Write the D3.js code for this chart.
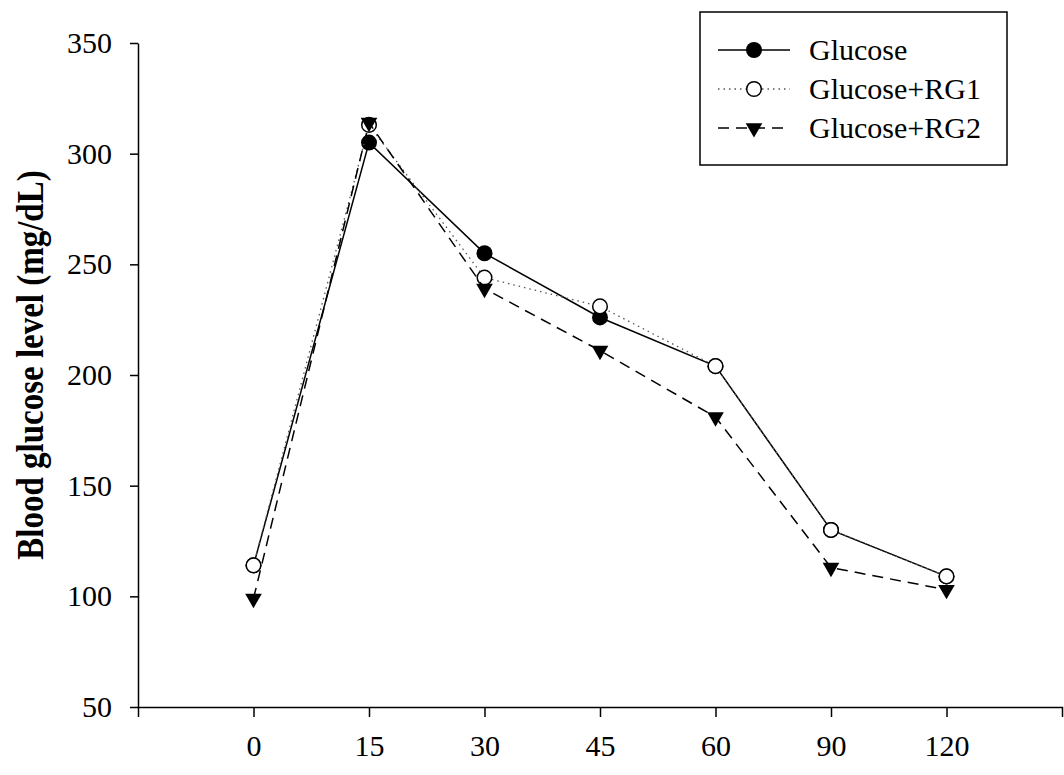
<!DOCTYPE html>
<html>
<head>
<meta charset="utf-8">
<script src="https://cdn.jsdelivr.net/npm/d3@7"></script>
<style>
  body { margin: 0; background: #fff; }
  svg { display: block; }
  text { font-family: "Liberation Serif", "Times New Roman", serif; fill: #000; }
  .tick text { font-size: 30px; }
  .legend text { font-size: 30px; }
  .axis-title { font-size: 33px; font-weight: bold; }
</style>
</head>
<body>
<svg width="1064" height="775"></svg>
<script>
const timeLabels = ['0', '15', '30', '45', '60', '90', '120']
const yTicks = [50, 100, 150, 200, 250, 300, 350]

const glucose = [114, 305, 255, 226, 204, 130, 109]
const glucoseRG1 = [114, 313, 244, 231, 204, 130, 109]
const glucoseRG2 = [99, 314, 239, 211, 181, 113, 103]

const seriesNames = ['Glucose', 'Glucose+RG1', 'Glucose+RG2']

const svg = d3.select('svg')
const plot = {left: 138, right: 1062, top: 43, bottom: 707}

const xScale = d3.scalePoint()
  .domain(timeLabels)
  .range([plot.left, plot.right])
  .padding(1)

const yScale = d3.scaleLinear()
  .domain([50, 350])
  .range([plot.bottom, plot.top])

// y axis
const yAxisG = svg.append('g')
  .attr('transform', `translate(${plot.left},0)`)
  .call(d3.axisLeft(yScale).tickValues(yTicks).tickSize(8).tickPadding(18).tickSizeOuter(0))
yAxisG.select('.domain').attr('stroke', '#000').attr('stroke-width', 1.5)
yAxisG.selectAll('.tick line').attr('stroke', '#000').attr('stroke-width', 1.5)

// x axis
const xAxisG = svg.append('g')
  .attr('transform', `translate(0,${plot.bottom})`)
  .call(d3.axisBottom(xScale).tickSize(10).tickPadding(18).tickSizeOuter(10))
xAxisG.select('.domain').attr('stroke', '#000').attr('stroke-width', 1.5)
xAxisG.selectAll('.tick line').attr('stroke', '#000').attr('stroke-width', 1.5)

svg.append('text')
  .attr('class', 'axis-title')
  .attr('transform', 'translate(43,365) rotate(-90) scale(1,1.12)')
  .attr('text-anchor', 'middle')
  .text('Blood glucose level (mg/dL)')

const line = d3.line()
  .x((d, i) => xScale(timeLabels[i]))
  .y(d => yScale(d))

const tri = d3.symbol().type(d3.symbolTriangle).size(120)

// Glucose: solid + filled circle
svg.append('path')
  .datum(glucose)
  .attr('d', line)
  .attr('fill', 'none')
  .attr('stroke', '#000')
  .attr('stroke-width', 1.5)
svg.append('g').selectAll('circle')
  .data(glucose)
  .enter()
  .append('circle')
  .attr('cx', (d, i) => xScale(timeLabels[i]))
  .attr('cy', d => yScale(d))
  .attr('r', 8)
  .attr('fill', '#000')

// Glucose+RG1: dotted + open circle
svg.append('path')
  .datum(glucoseRG1)
  .attr('d', line)
  .attr('fill', 'none')
  .attr('stroke', '#555')
  .attr('stroke-width', 1.3)
  .attr('stroke-dasharray', '1.5,4')
svg.append('g').selectAll('circle')
  .data(glucoseRG1)
  .enter()
  .append('circle')
  .attr('cx', (d, i) => xScale(timeLabels[i]))
  .attr('cy', d => yScale(d))
  .attr('r', 7.3)
  .attr('fill', '#fff')
  .attr('stroke', '#000')
  .attr('stroke-width', 1.5)

// Glucose+RG2: dashed + filled down triangle
svg.append('path')
  .datum(glucoseRG2)
  .attr('d', line)
  .attr('fill', 'none')
  .attr('stroke', '#000')
  .attr('stroke-width', 1.5)
  .attr('stroke-dasharray', '11,7')
svg.append('g').selectAll('path')
  .data(glucoseRG2)
  .enter()
  .append('path')
  .attr('d', tri)
  .attr('transform', (d, i) => `translate(${xScale(timeLabels[i])},${yScale(d)}) rotate(180)`)
  .attr('fill', '#000')

// legend
const legend = svg.append('g').attr('class', 'legend')
legend.append('rect')
  .attr('x', 700).attr('y', 12)
  .attr('width', 307).attr('height', 153)
  .attr('fill', '#fff')
  .attr('stroke', '#000')
  .attr('stroke-width', 1.5)

const rowY = [50, 89, 128]
const lineStyles = [
  {stroke: '#000', dash: null, width: 1.5},
  {stroke: '#555', dash: '1.5,4', width: 1.3},
  {stroke: '#000', dash: '11,7', width: 1.5}
]
seriesNames.forEach((name, i) => {
  const y = rowY[i]
  const s = lineStyles[i]
  legend.append('line')
    .attr('x1', 718).attr('x2', 790)
    .attr('y1', y).attr('y2', y)
    .attr('stroke', s.stroke)
    .attr('stroke-width', s.width)
    .attr('stroke-dasharray', s.dash)
  if (i === 0) {
    legend.append('circle').attr('cx', 754).attr('cy', y).attr('r', 8).attr('fill', '#000')
  } else if (i === 1) {
    legend.append('circle').attr('cx', 754).attr('cy', y).attr('r', 7.3)
      .attr('fill', '#fff').attr('stroke', '#000').attr('stroke-width', 1.5)
  } else {
    legend.append('path').attr('d', tri)
      .attr('transform', `translate(754,${y}) rotate(180)`)
      .attr('fill', '#000')
  }
  legend.append('text')
    .attr('x', 809)
    .attr('y', y + 10)
    .text(name)
})
</script>
</body>
</html>
